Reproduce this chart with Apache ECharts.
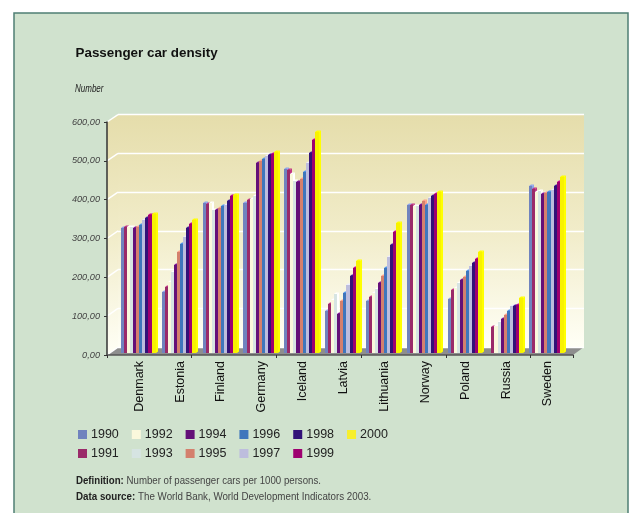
<!DOCTYPE html>
<html><head><meta charset="utf-8">
<style>html,body{margin:0;padding:0;background:#fff}#c{width:630px;height:513px}</style>
<script src="https://cdn.jsdelivr.net/npm/echarts@6/dist/echarts.min.js"></script>
</head><body><div id="c"></div>
<script>
const categories=['Denmark','Estonia','Finland','Germany','Iceland','Latvia','Lithuania','Norway','Poland','Russia','Sweden'];
const years=['1990','1991','1992','1993','1994','1995','1996','1997','1998','1999','2000'];
const values1990=[323,157,389,389,475,108,134,382,140,null,431];
const values1991=[325,170,386,396,474,126,145,384,162,67,425];
const values1992=[325,183,388,399,463,138,156,381,169,71,416];
const values1993=[327,210,370,407,444,153,166,381,181,80,419];
const values1994=[324,228,371,491,443,102,182,384,188,89,412];
const values1995=[325,261,375,496,450,134,200,393,196,97,415];
const values1996=[332,283,381,503,468,156,220,382,212,109,417];
const values1997=[343,301,384,509,491,177,248,401,224,121,422];
const values1998=[350,322,394,512,517,200,279,407,233,122,431];
const values1999=[357,334,405,515,551,220,313,412,244,124,441];
const values2000=[360,343,408,519,571,238,337,417,261,142,455];
const allValues=[values1990,values1991,values1992,values1993,values1994,values1995,values1996,values1997,values1998,values1999,values2000];
const colors=['#7083BE','#9A2A69','#FAF8DC','#D6E4E2','#640F78','#D4806D','#3F76BC','#BDBDDD','#321278','#9E0070','#F8F200'];
const legendRow1=['1990','1992','1994','1996','1998','2000'];
const legendRow2=['1991','1993','1995','1997','1999'];
const sans='"Liberation Sans",Arial,sans-serif';

const chart=echarts.init(document.getElementById('c'),null,{renderer:'canvas'});
const pitch=3.05, groupStart=-18.4, depth=2;
function renderBar(params,api){
  const v=api.value(1); if(v==null||isNaN(v)) return null;
  const cat=api.value(0), i=params.seriesIndex;
  const top=api.coord([cat,v]), base=api.coord([cat,0]);
  const x=Math.round(top[0]+groupStart+i*pitch);
  const xNext=Math.round(top[0]+groupStart+(i+1)*pitch);
  const w=(i===10?4:xNext-x), c=colors[i];
  const side=echarts.color.lift(c,-0.25);
  const dy=1.5, ty=Math.round(top[1]);
  return {type:'group',children:[
    {type:'polygon',shape:{points:[[x+w,ty],[x+w+depth,ty-dy],[x+w+depth,base[1]-dy],[x+w,base[1]]]},style:{fill:side}},
    {type:'polygon',shape:{points:[[x,ty],[x+depth,ty-dy],[x+w+depth,ty-dy],[x+w,ty]]},style:{fill:side}},
    {type:'rect',shape:{x:x,y:ty,width:w,height:base[1]-ty},style:{fill:c}}
  ]};
}
const series=years.map((y,i)=>({
  name:y,type:'custom',coordinateSystem:'cartesian2d',xAxisIndex:0,yAxisIndex:0,z:5+i,
  renderItem:renderBar,itemStyle:{color:i===10?'#F7EF2C':colors[i]},
  data:allValues[i].map((v,k)=>[k,v]),encode:{x:0,y:1},silent:true,clip:false
}));
const legendCommon={icon:'rect',itemWidth:9,itemHeight:9,itemGap:13,padding:0,selectedMode:false,
  textStyle:{fontFamily:sans,fontSize:12.5,color:'#222',padding:[0,0,0,-1]}};
const wallGrad=new echarts.graphic.LinearGradient(0,0,0,1,[{offset:0,color:'#E5DDAB'},{offset:0.5,color:'#F1ECC9'},{offset:1,color:'#FFFFF6'}]);
const wallX=118,wallY=114.6,wallW=466,wallH=232.5,ax=107,ay=122,aw=466,ah=233;
const richNote={b:{font:'bold 11.5px '+sans,fill:'#222'},n:{font:'11.5px '+sans,fill:'#444'}};
const graphics=[
  {type:'rect',z:-5,shape:{x:14,y:13,width:614,height:520},style:{fill:'#D0E2CE',stroke:'#4F7F74',lineWidth:1.5}},
  {type:'rect',z:-4,shape:{x:wallX,y:wallY,width:wallW,height:wallH},style:{fill:wallGrad}},
  {type:'polygon',z:-4,shape:{points:[[ax,ay],[wallX,wallY],[wallX,wallY+wallH],[ax,ay+ah]]},style:{fill:wallGrad}},
  {type:'polygon',z:-3,shape:{points:[[ax,ay+ah],[wallX,wallY+wallH],[wallX+wallW,wallY+wallH],[ax+aw,ay+ah]]},style:{fill:'#8E8E8E'}},
  {type:'text',x:75.5,y:47,style:{text:'Passenger car density',font:'bold 13.4px '+sans,fill:'#111'}},
  {type:'text',x:75,y:84,scaleX:0.8,style:{text:'Number',font:'italic 10px '+sans,fill:'#222'}},
  {type:'text',x:76,y:475,scaleX:0.84,style:{rich:richNote,text:'{b|Definition:} {n|Number of passenger cars per 1000 persons.}'}},
  {type:'text',x:76,y:491,scaleX:0.85,style:{rich:richNote,text:'{b|Data source:} {n|The World Bank, World Development Indicators 2003.}'}}
];
[0,100,200,300,400,500,600].forEach(t=>{
  const f=t/600;
  graphics.push({type:'line',z:-2,shape:{x1:ax,y1:ay+ah-ah*f,x2:wallX,y2:wallY+wallH-wallH*f},style:{stroke:'#fff',lineWidth:1.4}});
});
chart.setOption({
  animation:false,backgroundColor:'#fff',
  grid:[
    {left:119,width:449,top:121,height:232},
    {left:107,width:466,top:122,height:233},
    {left:118,width:466,top:114.6,height:232.5}
  ],
  xAxis:[
    {gridIndex:0,type:'category',data:categories,axisLine:{show:false},axisTick:{show:false},
     axisLabel:{rotate:90,margin:8,interval:0,fontFamily:sans,fontSize:12.5,color:'#111'}},
    {gridIndex:1,type:'category',data:categories,axisLine:{lineStyle:{color:'#555',width:1.5}},
     axisTick:{show:true,alignWithLabel:false,length:3,lineStyle:{color:'#333'}},axisLabel:{show:false}},
    {gridIndex:2,type:'category',data:categories,show:false}
  ],
  yAxis:[
    {gridIndex:0,type:'value',min:0,max:600,interval:100,show:false},
    {gridIndex:1,type:'value',min:0,max:600,interval:100,axisLine:{show:true,lineStyle:{color:'#333',width:1.5}},
     axisTick:{show:true,length:3,lineStyle:{color:'#333'}},splitLine:{show:false},
     axisLabel:{margin:7,fontFamily:sans,fontSize:9.2,fontStyle:'italic',color:'#444',
       formatter:v=>v.toFixed(2).replace('.',',')}},
    {gridIndex:2,type:'value',min:0,max:600,interval:100,axisLine:{show:false},axisTick:{show:false},axisLabel:{show:false},
     splitLine:{show:true,lineStyle:{color:'#fff',width:1.4}}}
  ],
  legend:[
    Object.assign({},legendCommon,{data:legendRow1,left:78,top:428}),
    Object.assign({},legendCommon,{data:legendRow2,left:78,top:447})
  ],
  graphic:graphics,
  series:series
});
</script></body></html>
